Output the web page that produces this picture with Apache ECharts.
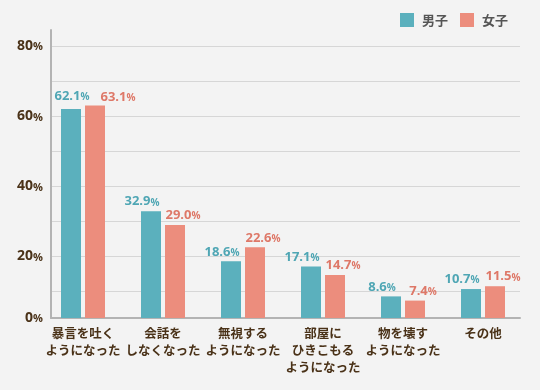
<!DOCTYPE html>
<html><head><meta charset="utf-8">
<script src="https://cdn.jsdelivr.net/npm/echarts@6/dist/echarts.min.js"></script>
<style>html,body{margin:0;padding:0;background:#f3f3f3}#c{width:540px;height:390px}</style>
</head><body><div id="c"></div>
<script>
const categories = ['暴言を吐く\nようになった','会話を\nしなくなった','無視する\nようになった','部屋に\nひきこもる\nようになった','物を壊す\nようになった','その他'];
const seriesNames = ['男子','女子'];
const boys = [62.1, 32.9, 18.6, 17.1, 8.6, 10.7];
const girls = [63.1, 29.0, 22.6, 14.7, 7.4, 11.5];
const gridValues = [10,20,30,40,50,60,70,80];
const labelValues = [20,40,60,80];

const Y_MIN = 2.43, Y_MAX = 84.66;
const FONT = '"Open Sans","Noto Sans CJK JP",sans-serif';
const JFONT = '"Noto Sans CJK JP",sans-serif';
const BROWN = '#4a3218';

function valLabel(color, offset) {
  return {
    show: true, position: 'top', distance: 3, offset: offset,
    formatter: p => '{n|' + p.value.toFixed(1) + '}{p|%}',
    rich: {
      n: {fontFamily: FONT, fontSize: 13, fontWeight: 'bold', color: color, letterSpacing: 1},
      p: {fontFamily: FONT, fontSize: 10, fontWeight: 'bold', color: color, padding: [2,0,0,0]}
    }
  };
}

const chart = echarts.init(document.getElementById('c'), null, {renderer: 'canvas'});
chart.setOption({
  backgroundColor: '#f3f3f3',
  animation: false,
  legend: {
    data: seriesNames, top: 13, right: 32, padding: 0,
    icon: 'rect', itemWidth: 14, itemHeight: 14, itemGap: 12,
    textStyle: {fontFamily: JFONT, fontSize: 13, fontWeight: 'bold', color: '#555', padding: [0,0,0,3]}
  },
  grid: [
    {left: 51, right: 20, top: 30, bottom: 72},
    {left: 43, width: 480, top: 30, bottom: 72}
  ],
  xAxis: [
    {type: 'category', gridIndex: 0, data: categories,
     axisLine: {show: true, lineStyle: {color: '#b3b3b3', width: 2}},
     axisTick: {show: false}, axisLabel: {show: false}, splitLine: {show: false}},
    {type: 'category', gridIndex: 1, data: categories,
     axisLine: {show: false}, axisTick: {show: false},
     axisLabel: {margin: 7, fontFamily: JFONT, fontSize: 12.5, fontWeight: 'bold', color: BROWN, lineHeight: 17, interval: 0}}
  ],
  yAxis: [
    {type: 'value', gridIndex: 0, min: Y_MIN, max: Y_MAX,
     axisLine: {show: true, lineStyle: {color: '#b3b3b3', width: 2}},
     axisTick: {show: false, customValues: gridValues},
     splitLine: {show: true, lineStyle: {color: '#d6d6d6', width: 1}},
     axisLabel: {margin: 8, customValues: [Y_MIN].concat(labelValues),
       formatter: v => '{n|' + (v < 5 ? 0 : Math.round(v)) + '}{p|%}',
       rich: {
         n: {fontFamily: FONT, fontSize: 14, fontWeight: 'bold', color: BROWN},
         p: {fontFamily: FONT, fontSize: 11, fontWeight: 'bold', color: BROWN, padding: [2,0,0,0]}
       }}},
    {type: 'value', gridIndex: 1, min: Y_MIN, max: Y_MAX, show: false, splitLine: {show: false}}
  ],
  series: [
    {name: seriesNames[0], type: 'bar', xAxisIndex: 1, yAxisIndex: 1,
     barWidth: 20, barGap: '20%', itemStyle: {color: '#5bb0bd'},
     label: valLabel('#4fa6b4', [-9, 0]),
     data: boys.map((v, i) => i === 0 ? {value: v, label: {offset: [1, -3]}} : v)},
    {name: seriesNames[1], type: 'bar', xAxisIndex: 1, yAxisIndex: 1,
     barWidth: 20, barGap: '20%', itemStyle: {color: '#ec8d7d'},
     label: valLabel('#de7868', [8, 0]),
     data: girls.map((v, i) => i === 0 ? {value: v, label: {offset: [23, 1]}} : v)}
  ]
});
</script></body></html>
